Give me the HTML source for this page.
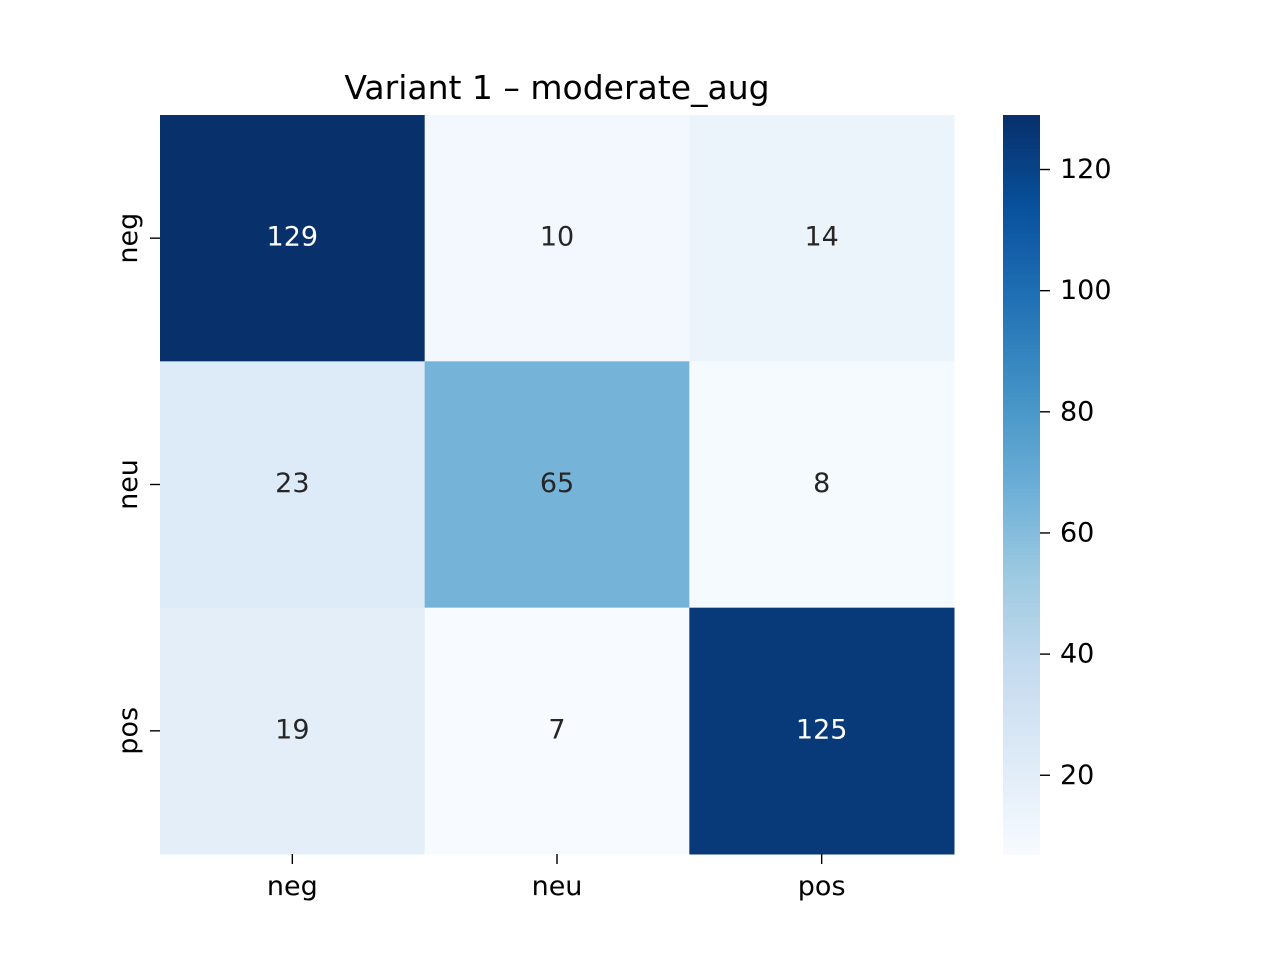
<!DOCTYPE html>
<html><head><meta charset="utf-8"><style>
body{margin:0;background:#fff;}
svg text{font-family:"DejaVu Sans","Liberation Sans",sans-serif;}
</style></head><body>
<svg id="chart" width="1280" height="960" xmlns="http://www.w3.org/2000/svg">
<rect width="1280" height="960" fill="#fff"/>
<text x="557" y="99" font-size="33" text-anchor="middle" fill="#000">Variant 1 – moderate_aug</text>
<g id="cells"></g><g id="axes"></g><g id="cbar"></g>
</svg>
<script>
const rowLabels = ["neg","neu","pos"];
const colLabels = ["neg","neu","pos"];
const values = [[129,10,14],[23,65,8],[19,7,125]];
const cbarTicks = [20,40,60,80,100,120];
const vmin = 7, vmax = 129;

const X0=160,X1=954,Y0=115,Y1=854;
const FS=27;
const cw=(X1-X0)/colLabels.length, ch=(Y1-Y0)/rowLabels.length;
const blues=["#f7fbff","#deebf7","#c6dbef","#9ecae1","#6baed6","#4292c6","#2171b5","#08519c","#08306b"];
function hex(h){return [1,3,5].map(i=>parseInt(h.substr(i,2),16));}
function color(v){let t=Math.max(0,Math.min(1,(v-vmin)/(vmax-vmin)))*8;let i=Math.min(7,Math.floor(t));let f=t-i;let a=hex(blues[i]),b=hex(blues[i+1]);let c=a.map((x,k)=>Math.round(x+(b[k]-x)*f));return {s:`rgb(${c})`,c};}
const NS="http://www.w3.org/2000/svg";
function el(tag,attrs,parent,txt){const e=document.createElementNS(NS,tag);for(const k in attrs)e.setAttribute(k,attrs[k]);if(txt!==undefined)e.textContent=txt;parent.appendChild(e);return e;}
const cells=document.getElementById('cells'),axes=document.getElementById('axes'),cb=document.getElementById('cbar');
values.forEach((row,r)=>row.forEach((v,c)=>{
  const col=color(v);
  const rect=el('rect',{x:X0+c*cw,y:Y0+r*ch,width:cw+0.5,height:ch+0.5,fill:col.s},cells);
  
  
  const lum=0.2126*col.c[0]/255+0.7152*col.c[1]/255+0.0722*col.c[2]/255;
  const t=el('text',{x:X0+(c+0.5)*cw,y:Y0+(r+0.5)*ch+7.5,'font-size':FS,'text-anchor':'middle',fill:lum>0.408?'#262626':'#ffffff'},cells,String(v));
  
  
}));
colLabels.forEach((l,i)=>{
  const x=X0+(i+0.5)*cw;
  el('line',{x1:x,x2:x,y1:Y1,y2:Y1+10,stroke:'#000','stroke-width':1.4},axes);
  const t=el('text',{x:x,y:Y1+41,'font-size':FS,'text-anchor':'middle'},axes,l);
  
  
});
rowLabels.forEach((l,i)=>{
  const y=Y0+(i+0.5)*ch;
  el('line',{x1:X0-10,x2:X0,y1:y,y2:y,stroke:'#000','stroke-width':1.4},axes);
  const t=el('text',{x:0,y:0,'font-size':FS,'text-anchor':'middle',transform:`translate(137,${y}) rotate(-90)`},axes,l);
  
  
});
const CX0=1003,CX1=1040;
const N=200;
for(let i=0;i<N;i++){
  const v=vmin+(vmax-vmin)*(i+0.5)/N;
  const y=Y1-(i+1)*(Y1-Y0)/N;
  const r=el('rect',{x:CX0,y:y,width:CX1-CX0,height:(Y1-Y0)/N+0.6,fill:color(v).s},cb);
  
  
}
cbarTicks.forEach(v=>{
  const y=Y1-(v-vmin)/(vmax-vmin)*(Y1-Y0);
  el('line',{x1:CX1,x2:CX1+10,y1:y,y2:y,stroke:'#000','stroke-width':1.4},cb);
  const t=el('text',{x:CX1+20,y:y+8.5,'font-size':FS},cb,String(v));
  
  
});
</script>
</body></html>
